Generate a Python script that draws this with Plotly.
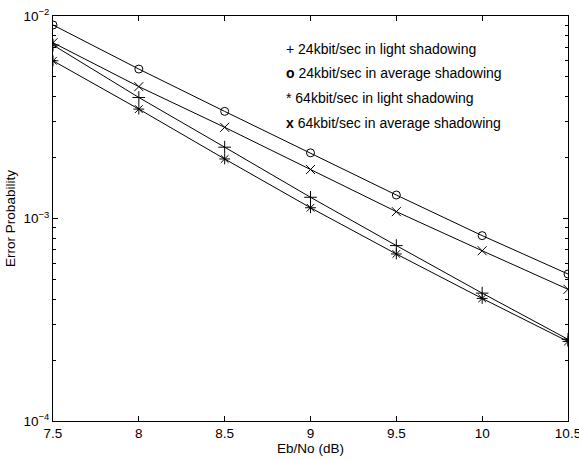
import plotly.graph_objects as go

ebno = [7.5, 8.0, 8.5, 9.0, 9.5, 10.0, 10.5]
p_24k_light = [7.19e-3, 3.96e-3, 2.25e-3, 1.273e-3, 7.35e-4, 4.28e-4, 2.53e-4]
p_24k_avg = [9.03e-3, 5.47e-3, 3.38e-3, 2.11e-3, 1.306e-3, 8.23e-4, 5.32e-4]
p_64k_light = [6.01e-3, 3.47e-3, 1.968e-3, 1.130e-3, 6.68e-4, 4.03e-4, 2.47e-4]
p_64k_avg = [7.38e-3, 4.48e-3, 2.82e-3, 1.746e-3, 1.081e-3, 6.93e-4, 4.47e-4]

legend_labels = [
    "+ 24kbit/sec in light shadowing",
    "<b>o</b> 24kbit/sec in average shadowing",
    "* 64kbit/sec in light shadowing",
    "<b>x</b> 64kbit/sec in average shadowing",
]
x_ticks = [7.5, 8, 8.5, 9, 9.5, 10, 10.5]
x_ticktext = ["7.5", "8", "8.5", "9", "9.5", "10", "10.5"]
y_ticks = [1e-4, 1e-3, 1e-2]
y_ticktext = ["10<sup>−4</sup>", "10<sup>−3</sup>", "10<sup>−2</sup>"]

FONT = "Liberation Sans, Arial, Helvetica, sans-serif"

series = [
    (p_24k_light, "cross-thin-open", 9),
    (p_24k_avg, "circle-open", 8),
    (p_64k_light, "asterisk-open", 9),
    (p_64k_avg, "x-thin-open", 9),
]

fig = go.Figure()
for ys, sym, sz in series:
    fig.add_trace(go.Scatter(
        x=ebno, y=ys, mode="lines+markers",
        line=dict(color="black", width=1),
        marker=dict(symbol=sym, size=sz, color="black",
                    line=dict(color="black", width=1)),
        showlegend=False,
    ))

L, R, T, B = 53, 11, 16, 39
W, H = 579, 460
pw = W - L - R
ph = H - T - B
legend_px_x = 284
legend_px_y = [49.3, 73.3, 98.3, 122.7]
for lab, py in zip(legend_labels, legend_px_y):
    fig.add_annotation(
        x=(legend_px_x - L) / pw, y=1 - (py - T) / ph,
        xref="paper", yref="paper", xanchor="left", yanchor="middle",
        text=lab, showarrow=False,
        font=dict(family=FONT, size=14, color="black"),
    )

fig.update_layout(
    width=W, height=H,
    margin=dict(l=L, r=R, t=T, b=B),
    paper_bgcolor="white", plot_bgcolor="white",
    font=dict(family=FONT, size=13.5, color="black"),
    xaxis=dict(
        range=[7.5, 10.5], tickvals=x_ticks, ticktext=x_ticktext,
        ticks="inside", ticklen=5, tickcolor="black",
        showline=True, linecolor="black", linewidth=1, mirror="ticks",
        showgrid=False, zeroline=False, automargin=False,
        ticklabeloverflow="allow",
        title=dict(text="Eb/No (dB)", standoff=2, font=dict(size=13.5)),
    ),
    yaxis=dict(
        type="log", range=[-4, -2], tickvals=y_ticks, ticktext=y_ticktext,
        ticks="inside", ticklen=5, tickcolor="black",
        showline=True, linecolor="black", linewidth=1, mirror="ticks",
        showgrid=False, zeroline=False, automargin=False,
        ticklabeloverflow="allow",
        minor=dict(ticks="inside", ticklen=3, tickcolor="black", dtick="D1", showgrid=False),
        title=dict(text="Error Probability", standoff=4, font=dict(size=13.5)),
    ),
)

fig.write_html(
    "out.html",
    config={"displayModeBar": False},
    post_script="document.body.style.margin='0';document.body.style.overflow='hidden';",
)
